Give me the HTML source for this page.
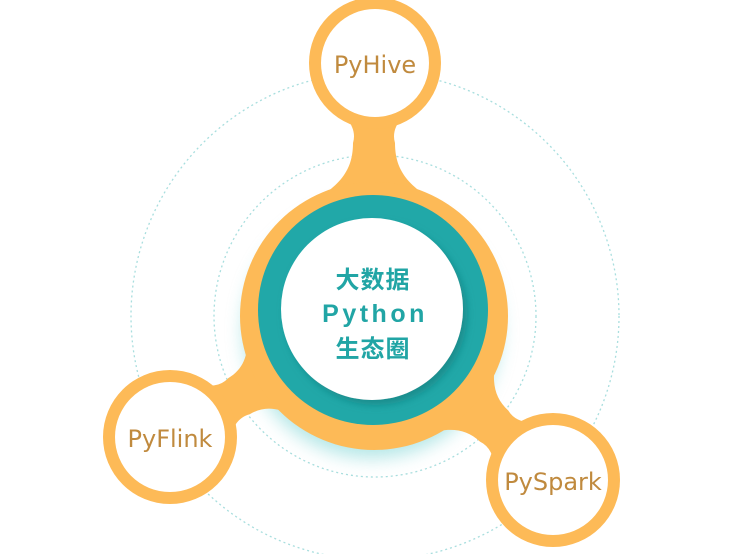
<!DOCTYPE html>
<html><head><meta charset="utf-8"><style>
html,body{margin:0;padding:0;background:#fff;}
svg{display:block;}
</style></head><body>
<svg width="750" height="554" viewBox="0 0 750 554" xmlns="http://www.w3.org/2000/svg">
<defs>
<filter id="glow" x="-30%" y="-30%" width="160%" height="160%">
<feGaussianBlur stdDeviation="9"/>
</filter>
<filter id="inner" x="-30%" y="-30%" width="160%" height="160%">
<feDropShadow dx="4" dy="5" stdDeviation="4" flood-color="#127a7a" flood-opacity="0.6"/>
</filter>
</defs>
<circle cx="375" cy="316" r="244" fill="none" stroke="#a8dede" stroke-width="1.3" stroke-dasharray="2 3"/>
<circle cx="375" cy="316" r="161" fill="none" stroke="#a8dede" stroke-width="1.3" stroke-dasharray="2 3"/>
<circle cx="372" cy="330" r="128" fill="#7fd6d6" opacity="0.6" filter="url(#glow)"/>
<g fill="#fdba57">
<g transform="translate(374,316)">
<path d="M-45,-213 Q-15,-193 -21,-173 C-21,-140 -40,-126 -76,-106 L-60,-80 L60,-80 L76,-106 C40,-126 21,-140 21,-173 Q15,-193 45,-213 Z"/>
<g transform="rotate(-120.7)"><path d="M-45,-197 Q-15,-177 -21,-157 C-21,-132 -40,-120 -76,-104 L-60,-80 L60,-80 L76,-104 C40,-120 21,-132 21,-157 Q15,-177 45,-197 Z"/></g>
<g transform="rotate(132.5)"><path d="M-45,-203 Q-15,-183 -21,-163 C-21,-136 -40,-123 -76,-105 L-60,-80 L60,-80 L76,-105 C40,-123 21,-136 21,-163 Q15,-183 45,-203 Z"/></g>
</g>
<circle cx="374" cy="316" r="134"/>
<circle cx="375" cy="63" r="66"/>
<circle cx="170" cy="437" r="67"/>
<circle cx="553" cy="480" r="67"/>
</g>
<circle cx="375" cy="63" r="54" fill="#fff"/>
<circle cx="170" cy="437" r="55" fill="#fff"/>
<circle cx="553" cy="480" r="55" fill="#fff"/>
<circle cx="373" cy="310" r="115" fill="#21a8a8"/>
<circle cx="372" cy="309" r="91" fill="#fff" filter="url(#inner)"/>
<g font-family="Liberation Sans, Noto Sans CJK SC, sans-serif" fill="#21a5a5" font-weight="bold" text-anchor="middle">
<text x="373" y="288" font-size="24" font-family="Noto Sans CJK SC, sans-serif" font-weight="bold" letter-spacing="1">大数据</text>
<text x="375" y="322" font-size="25" letter-spacing="3.5">Python</text>
<text x="373" y="357" font-size="24" font-family="Noto Sans CJK SC, sans-serif" font-weight="bold" letter-spacing="1">生态圈</text>
</g>
<g font-family="DejaVu Sans, sans-serif" fill="#c08a3e" font-size="24" text-anchor="middle">
<text x="375" y="73">PyHive</text>
<text x="170" y="447">PyFlink</text>
<text x="553" y="490">PySpark</text>
</g>
</svg>
</body></html>
